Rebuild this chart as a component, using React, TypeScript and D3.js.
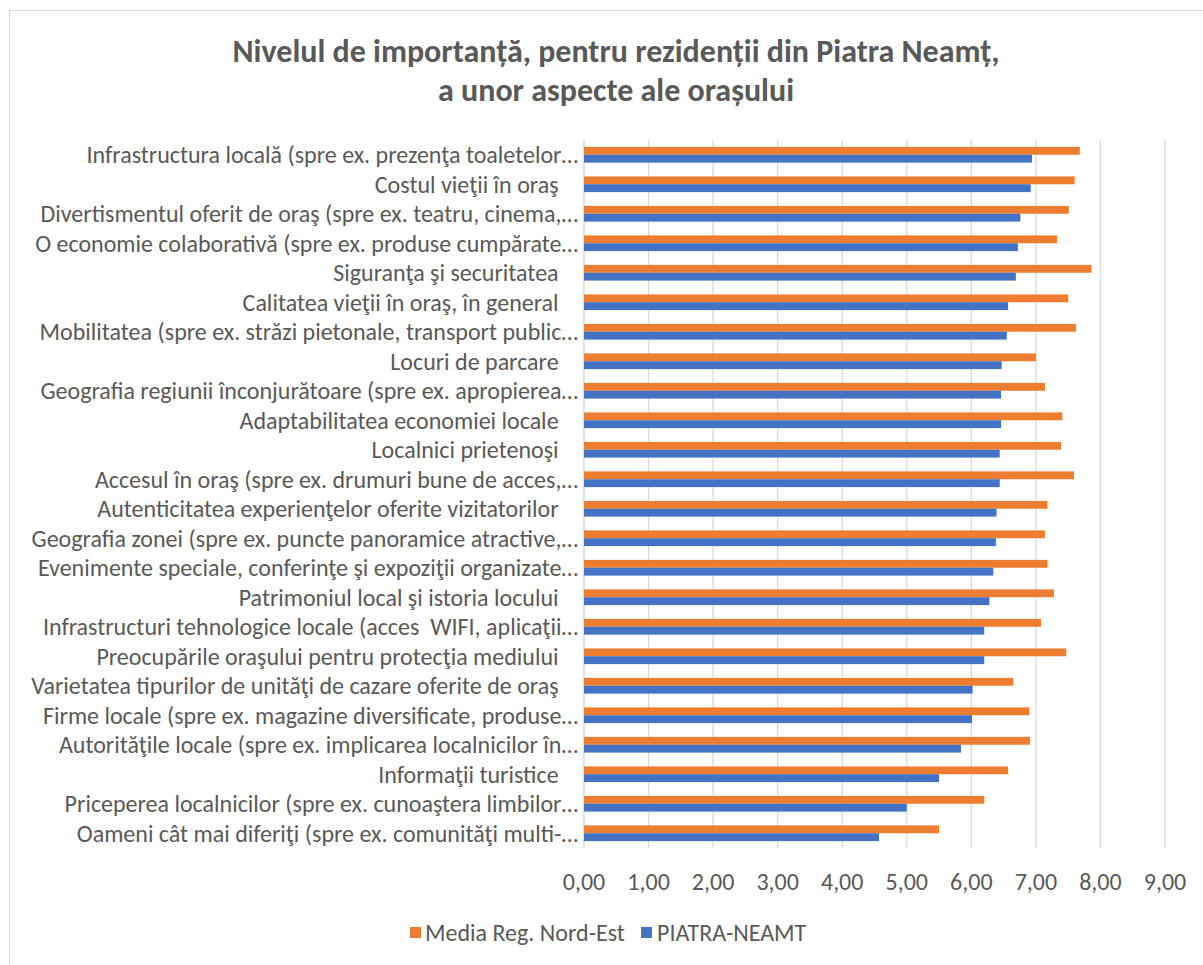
import React from "react";
import * as d3 from "d3";

const categories: string[] = [
  "Infrastructura locală (spre ex. prezenţa toaletelor…",
  "Costul vieţii în oraş ",
  "Divertismentul oferit de oraş (spre ex. teatru, cinema,…",
  "O economie colaborativă (spre ex. produse cumpărate…",
  "Siguranţa şi securitatea ",
  "Calitatea vieţii în oraş, în general ",
  "Mobilitatea (spre ex. străzi pietonale, transport public…",
  "Locuri de parcare ",
  "Geografia regiunii înconjurătoare (spre ex. apropierea…",
  "Adaptabilitatea economiei locale ",
  "Localnici prietenoşi ",
  "Accesul în oraş (spre ex. drumuri bune de acces,…",
  "Autenticitatea experienţelor oferite vizitatorilor ",
  "Geografia zonei (spre ex. puncte panoramice atractive,…",
  "Evenimente speciale, conferinţe şi expoziţii organizate…",
  "Patrimoniul local şi istoria locului ",
  "Infrastructuri tehnologice locale (acces  WIFI, aplicaţii…",
  "Preocupările oraşului pentru protecţia mediului ",
  "Varietatea tipurilor de unităţi de cazare oferite de oraş ",
  "Firme locale (spre ex. magazine diversificate, produse…",
  "Autorităţile locale (spre ex. implicarea localnicilor în…",
  "Informaţii turistice ",
  "Priceperea localnicilor (spre ex. cunoaştera limbilor…",
  "Oameni cât mai diferiţi (spre ex. comunităţi multi-…",
];

const mediaRegNordEst: number[] = [
  7.68, 7.6, 7.51, 7.33, 7.86, 7.5, 7.62, 7.0, 7.14, 7.41, 7.39, 7.59,
  7.18, 7.14, 7.18, 7.28, 7.08, 7.47, 6.65, 6.9, 6.91, 6.57, 6.2, 5.5,
];

const piatraNeamt: number[] = [
  6.94, 6.92, 6.76, 6.72, 6.69, 6.57, 6.55, 6.47, 6.46, 6.46, 6.44, 6.44,
  6.39, 6.38, 6.34, 6.28, 6.2, 6.2, 6.02, 6.01, 5.84, 5.5, 5.0, 4.57,
];

const xTicks: number[] = [0, 1, 2, 3, 4, 5, 6, 7, 8, 9];
const seriesNames: string[] = ["Media Reg. Nord-Est", "PIATRA-NEAMT"];
const seriesColors: string[] = ["#ED7D31", "#4472C4"];

const W = 1203;
const H = 965;
const FONT = "Carlito, Calibri, sans-serif";
const TEXT = "#595959";

export default function App() {
  const plotLeft = 584;
  const plotRight = 1165;
  const plotTop = 140;
  const plotBottom = 848;

  const x = d3.scaleLinear().domain([0, 9]).range([plotLeft, plotRight]);
  const y = d3
    .scaleBand<string>()
    .domain(categories)
    .range([plotTop, plotBottom])
    .paddingInner(0.468)
    .paddingOuter(0.234);
  const inner = d3
    .scaleBand<number>()
    .domain([0, 1])
    .range([0, y.bandwidth()]);

  const series = [mediaRegNordEst, piatraNeamt];
  const fmt = (v: number) => v.toFixed(2).replace(".", ",");

  return (
    <svg
      width={W}
      height={H}
      style={{ position: "absolute", left: 0, top: 0, background: "#fff" }}
      fontFamily={FONT}
    >
      <rect x={0} y={0} width={W} height={H} fill="#fff" />
      <rect
        x={9.5}
        y={10.5}
        width={1200}
        height={960}
        fill="none"
        stroke="#D9D9D9"
        strokeWidth={1}
      />
      <text
        x={616}
        y={62}
        textAnchor="middle"
        fontSize={32}
        fontWeight="bold"
        fill={TEXT}
      >
        Nivelul de importanță, pentru rezidenții din Piatra Neamț,
      </text>
      <text
        x={616}
        y={101}
        textAnchor="middle"
        fontSize={32}
        fontWeight="bold"
        fill={TEXT}
      >
        a unor aspecte ale orașului
      </text>

      {xTicks.map((t) => (
        <line
          key={"g" + t}
          x1={x(t)}
          x2={x(t)}
          y1={plotTop}
          y2={plotBottom}
          stroke="#D9D9D9"
          strokeWidth={t === 0 ? 1.5 : 1.3}
        />
      ))}

      {categories.map((c, i) => (
        <g key={c}>
          {series.map((s, k) => (
            <rect
              key={k}
              x={x(0)}
              y={(y(c) as number) + (inner(k) as number)}
              width={x(s[i]) - x(0)}
              height={inner.bandwidth()}
              fill={seriesColors[k]}
            />
          ))}
          <text
            x={c.endsWith(" ") ? 564 : 578}
            y={(y(c) as number) + y.bandwidth() / 2}
            dy="0.35em"
            textAnchor="end"
            fontSize={24}
            fill={TEXT}
            style={{ whiteSpace: "pre" }}
            xmlSpace="preserve"
          >
            {c}
          </text>
        </g>
      ))}

      {xTicks.map((t) => (
        <text
          key={"t" + t}
          x={x(t)}
          y={890}
          textAnchor="middle"
          fontSize={24}
          fill={TEXT}
        >
          {fmt(t)}
        </text>
      ))}

      <g>
        <rect x={410} y={927} width={11} height={11} fill={seriesColors[0]} />
        <text x={425} y={941} fontSize={24} fill={TEXT}>
          {seriesNames[0]}
        </text>
        <rect x={641} y={927} width={11} height={11} fill={seriesColors[1]} />
        <text x={657} y={941} fontSize={24} fill={TEXT}>
          {seriesNames[1]}
        </text>
      </g>
    </svg>
  );
}
